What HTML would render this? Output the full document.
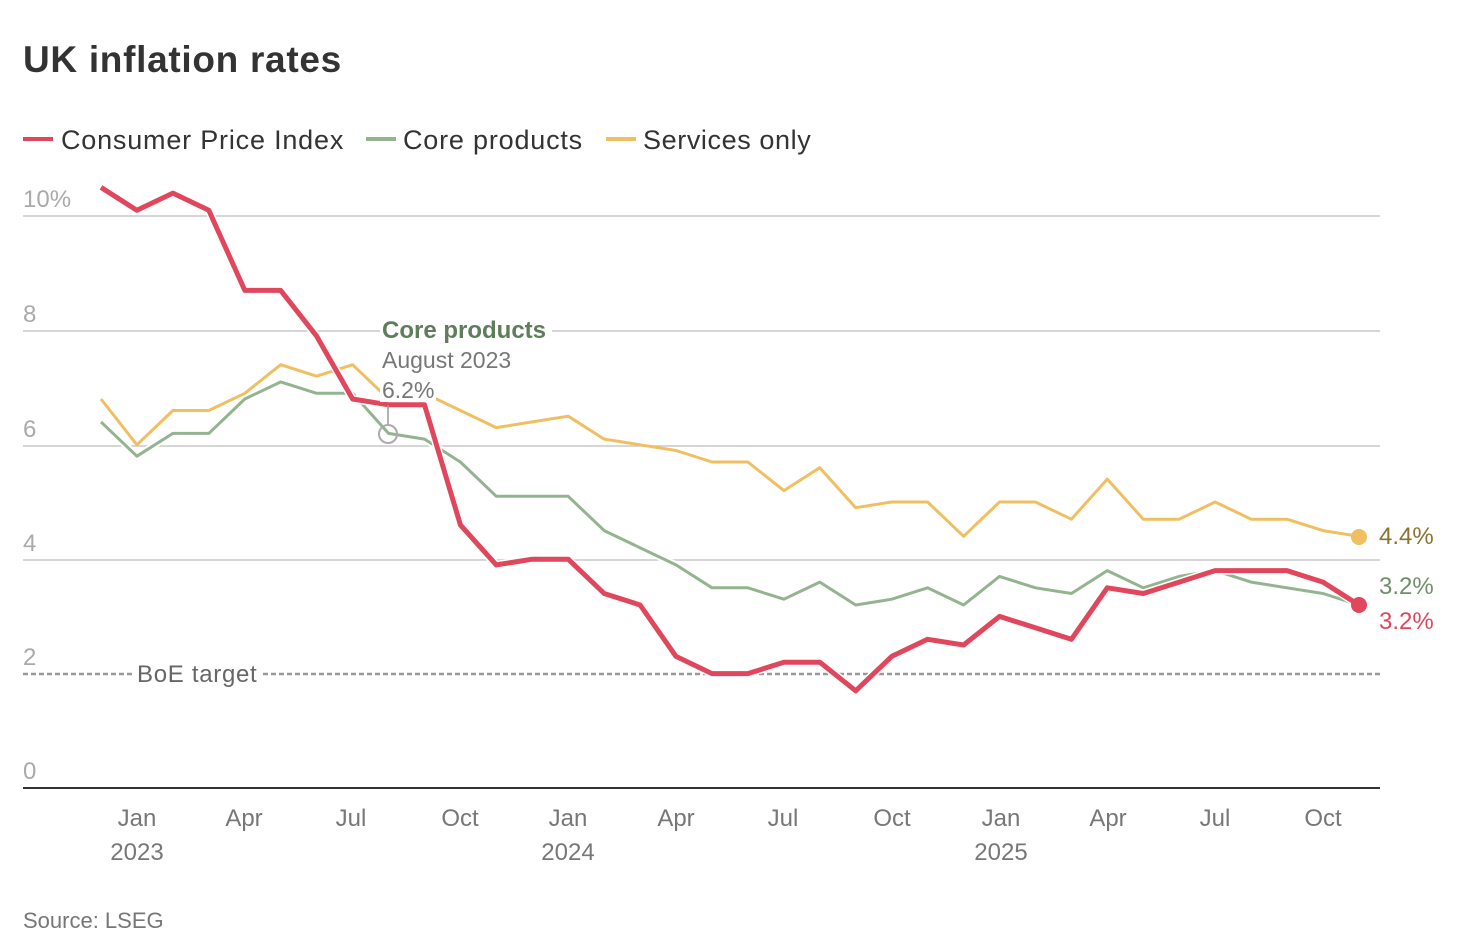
<!DOCTYPE html>
<html><head><meta charset="utf-8"><style>
body{margin:0;background:#fff;font-family:"Liberation Sans","DejaVu Sans",sans-serif;}
svg text{font-family:"Liberation Sans","DejaVu Sans",sans-serif;}
</style></head><body>
<svg id="c" width="1466" height="943" xmlns="http://www.w3.org/2000/svg">
<text x="23" y="72" font-size="37" font-weight="bold" fill="#333" letter-spacing="0.7">UK inflation rates</text>
<line x1="23" y1="139" x2="53" y2="139" stroke="#e0475d" stroke-width="4"/>
<text x="61" y="149" font-size="27" fill="#333" letter-spacing="0.8">Consumer Price Index</text>
<line x1="366" y1="139" x2="396" y2="139" stroke="#93b48f" stroke-width="4"/>
<text x="403" y="149" font-size="27" fill="#333" letter-spacing="0.8">Core products</text>
<line x1="606" y1="139" x2="636" y2="139" stroke="#efbf62" stroke-width="4"/>
<text x="643" y="149" font-size="27" fill="#333" letter-spacing="0.6">Services only</text>
<g stroke="#c8c8c8" stroke-width="1.5">
<line x1="23" y1="216" x2="1380" y2="216"/><line x1="23" y1="331" x2="1380" y2="331"/>
<line x1="23" y1="446" x2="1380" y2="446"/><line x1="23" y1="560" x2="1380" y2="560"/>
</g>
<g font-size="24" fill="#aaa">
<text x="23" y="207">10%</text><text x="23" y="322">8</text><text x="23" y="437">6</text>
<text x="23" y="551">4</text><text x="23" y="665">2</text><text x="23" y="779">0</text>
</g>
<line x1="23" y1="674" x2="1380" y2="674" stroke="#999" stroke-width="2.5" stroke-dasharray="5,3"/>
<rect x="134" y="660" width="128" height="26" fill="#fff"/>
<text x="137" y="682" font-size="24" fill="#666" letter-spacing="0.7">BoE target</text>
<line x1="23" y1="788" x2="1380" y2="788" stroke="#333" stroke-width="2"/>
<g font-size="24" fill="#777" text-anchor="middle">
<text x="137" y="826">Jan</text><text x="137" y="860">2023</text>
<text x="244" y="826">Apr</text><text x="351" y="826">Jul</text><text x="460" y="826">Oct</text>
<text x="568" y="826">Jan</text><text x="568" y="860">2024</text>
<text x="676" y="826">Apr</text><text x="783" y="826">Jul</text><text x="892" y="826">Oct</text>
<text x="1001" y="826">Jan</text><text x="1001" y="860">2025</text>
<text x="1108" y="826">Apr</text><text x="1215" y="826">Jul</text><text x="1323" y="826">Oct</text>
</g>
<polyline id="sv" fill="none" stroke="#efbf62" stroke-width="3" stroke-linejoin="round"/>
<polyline id="cw" fill="none" stroke="#fff" stroke-width="7" stroke-linejoin="round"/>
<polyline id="co" fill="none" stroke="#93b48f" stroke-width="3" stroke-linejoin="round"/>
<polyline id="cpw" fill="none" stroke="#fff" stroke-width="8" stroke-linejoin="round"/>
<polyline id="cp" fill="none" stroke="#e0475d" stroke-width="5" stroke-linejoin="round"/>
<rect x="380" y="318" width="172" height="26" fill="#fff"/>
<text x="382" y="338" font-size="24" font-weight="bold" fill="#5e7d5a">Core products</text>
<text x="382" y="368" font-size="23" fill="#777">August 2023</text>
<rect x="380" y="378" width="56" height="24" fill="#fff"/>
<text x="382" y="398" font-size="23" fill="#777">6.2%</text>
<line x1="388" y1="405" x2="388" y2="425" stroke="#999" stroke-width="1.5"/>
<circle cx="388" cy="434" r="9" fill="none" stroke="#aaa" stroke-width="2"/>
<circle cx="1359" cy="537" r="8" fill="#efbf62"/>
<circle cx="1359" cy="605" r="8" fill="#e0475d"/>
<text x="1379" y="544" font-size="24" fill="#8a7330">4.4%</text>
<text x="1379" y="594" font-size="24" fill="#6f8f6b">3.2%</text>
<text x="1379" y="629" font-size="24" fill="#e0475d">3.2%</text>
<text x="23" y="928" font-size="22" fill="#777">Source: LSEG</text>
</svg>
<script>
var cpi=[10.5,10.1,10.4,10.1,8.7,8.7,7.9,6.8,6.7,6.7,4.6,3.9,4.0,4.0,3.4,3.2,2.3,2.0,2.0,2.2,2.2,1.7,2.3,2.6,2.5,3.0,2.8,2.6,3.5,3.4,3.6,3.8,3.8,3.8,3.6,3.2];
var core=[6.4,5.8,6.2,6.2,6.8,7.1,6.9,6.9,6.2,6.1,5.7,5.1,5.1,5.1,4.5,4.2,3.9,3.5,3.5,3.3,3.6,3.2,3.3,3.5,3.2,3.7,3.5,3.4,3.8,3.5,3.7,3.8,3.6,3.5,3.4,3.2];
var sv=[6.8,6.0,6.6,6.6,6.9,7.4,7.2,7.4,6.8,6.9,6.6,6.3,6.4,6.5,6.1,6.0,5.9,5.7,5.7,5.2,5.6,4.9,5.0,5.0,4.4,5.0,5.0,4.7,5.4,4.7,4.7,5.0,4.7,4.7,4.5,4.4];
function pts(a){return a.map(function(v,i){return (101+i*35.94).toFixed(1)+","+(788-v*57.2).toFixed(1)}).join(" ")}
document.getElementById("sv").setAttribute("points",pts(sv));
document.getElementById("cw").setAttribute("points",pts(core));
document.getElementById("co").setAttribute("points",pts(core));
document.getElementById("cpw").setAttribute("points",pts(cpi));
document.getElementById("cp").setAttribute("points",pts(cpi));
</script>
</body></html>
